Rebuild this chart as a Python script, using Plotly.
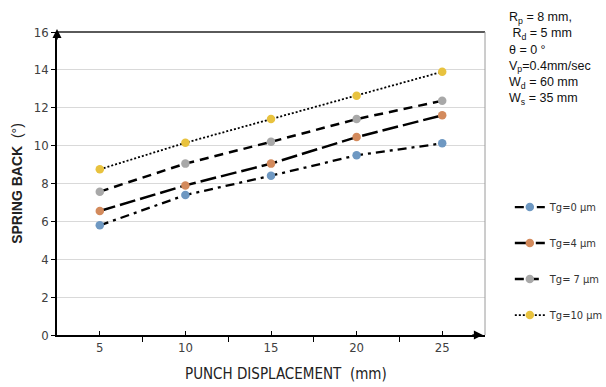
import plotly.graph_objects as go

displacement = [5, 10, 15, 20, 25]
tg0 = [5.79, 7.39, 8.41, 9.49, 10.12]
tg4 = [6.55, 7.90, 9.05, 10.45, 11.60]
tg7 = [7.57, 9.05, 10.20, 11.40, 12.37]
tg10 = [8.75, 10.15, 11.40, 12.63, 13.90]

names = ["Tg=0 µm", "Tg=4 µm", "Tg= 7 µm", "Tg=10 µm"]
series = [tg0, tg4, tg7, tg10]
marker_colors = ["#6E98C2", "#D38A5C", "#A8A8A8", "#E8C23E"]
dashes = ["9px,5px,3px,5px", "16px,5px", "9px,6px", "2px,2px"]
widths = [2.3, 2.5, 2.5, 1.8]

NARROW = "Liberation Sans Narrow, Arial Narrow, DejaVu Sans Condensed, sans-serif"

fig = go.Figure()
for i, (nm, ys) in enumerate(zip(names, series)):
    fig.add_trace(go.Scatter(
        x=displacement, y=ys, name=nm, mode="lines+markers",
        line=dict(color="black", width=widths[i], dash=dashes[i]),
        marker=dict(color=marker_colors[i], size=8.5),
        legendgroup=f"g{i}",
    ))

fig.update_layout(
    width=606, height=387,
    margin=dict(l=57, r=121, t=32, b=52, autoexpand=False),
    plot_bgcolor="white", paper_bgcolor="white",
    font=dict(family="Arial, Liberation Sans, sans-serif", color="#333333"),
    showlegend=True,
    legend=dict(x=1.058, y=0.47, xanchor="left", yanchor="top",
                font=dict(size=11, color="#333333", family=NARROW), tracegroupgap=17,
                bgcolor="rgba(0,0,0,0)"),
    xaxis=dict(
        range=[2.5, 27.5], tickvals=displacement, ticktext=[str(v) for v in displacement],
        showgrid=False, zeroline=False, showline=True, linecolor="black", linewidth=1.5,
        ticks="inside", ticklen=4, tickcolor="black",
        minor=dict(tickvals=[7.5, 12.5, 17.5, 22.5], ticks="outside", ticklen=5, tickcolor="black"),
        tickfont=dict(size=13, color="#404040", family=NARROW),
    ),
    yaxis=dict(
        range=[0, 16], tickvals=list(range(0, 17, 2)),
        showgrid=True, gridcolor="#D9D9D9", gridwidth=1, zeroline=False,
        showline=True, linecolor="black", linewidth=1.5,
        ticks="outside", ticklen=4, tickcolor="black",
        tickfont=dict(size=13, color="#404040", family=NARROW),
        title=dict(text="<b>SPRING BACK</b>  (°)", font=dict(size=14, color="#222222"), standoff=8),
    ),
)

# x-axis title
fig.add_annotation(xref="paper", yref="paper", x=0.535, y=-0.13, xanchor="center", yanchor="middle",
                   text="PUNCH DISPLACEMENT  (mm)", showarrow=False,
                   font=dict(size=15, color="#222222", family=NARROW))

# frame lines (top and right)
fig.add_shape(type="line", xref="paper", yref="paper", x0=0, x1=1, y0=1, y1=1,
              line=dict(color="#5A5A5A", width=2))
fig.add_shape(type="line", xref="paper", yref="paper", x0=1, x1=1, y0=0, y1=1,
              line=dict(color="#9A9A9A", width=1))

# axis arrows
fig.add_annotation(xref="paper", yref="paper", x=0, y=1.01, ax=0, ay=12,
                   showarrow=True, arrowhead=2, arrowsize=1.2, arrowwidth=1.5,
                   arrowcolor="black", text="")
fig.add_annotation(xref="paper", yref="paper", x=0.995, y=0, ax=-12, ay=0,
                   showarrow=True, arrowhead=2, arrowsize=1.2, arrowwidth=1.5,
                   arrowcolor="black", text="")

params = ("R<sub>p</sub> = 8 mm,<br> R<sub>d</sub> = 5 mm<br>θ = 0 °<br>"
          "V<sub>p</sub>=0.4mm/sec<br>W<sub>d</sub> = 60 mm<br>W<sub>s</sub> = 35 mm")
fig.add_annotation(xref="paper", yref="paper", x=1.052, y=1.08, xanchor="left", yanchor="top",
                   text=params, showarrow=False, align="left",
                   font=dict(size=12.5, color="#111111"))

fig.write_html("out.html")
